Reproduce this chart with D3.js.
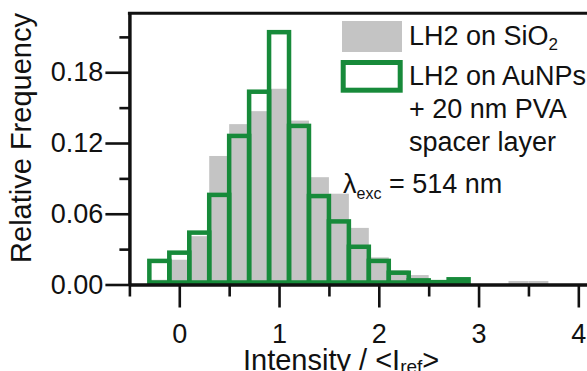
<!DOCTYPE html>
<html>
<head>
<meta charset="utf-8">
<script src="https://cdn.jsdelivr.net/npm/d3@7"></script>
<style>
body { margin: 0; background: #fff; }
svg text { font-family: "Liberation Sans", Arial, sans-serif; fill: #111; }
</style>
</head>
<body>
<script>
// histogram bins (centres), bin width 0.2
var binCenters = [-0.4, -0.2, 0, 0.2, 0.4, 0.6, 0.8, 1.0, 1.2, 1.4, 1.6, 1.8, 2.0, 2.2, 2.4, 2.6, 2.8, 3.0, 3.2, 3.4, 3.6];
// LH2 on SiO2 (grey)
var sio2Freq = [0, 0.004, 0.021, 0.041, 0.109, 0.136, 0.147, 0.166, 0.139, 0.091, 0.077, 0.048, 0.023, 0.012, 0.008, 0.003, 0, 0, 0, 0.003, 0.003];
// LH2 on AuNPs + 20 nm PVA (green outline)
var aunpFreq = [0, 0.020, 0.027, 0.044, 0.076, 0.126, 0.1635, 0.214, 0.1345, 0.075, 0.0535, 0.032, 0.020, 0.010, 0.0035, 0.002, 0.0044];

var xMajorTicks = [0, 1, 2, 3, 4];
var xMinorTicks = [-0.5, 0.5, 1.5, 2.5, 3.5];
var yMajorTicks = [0, 0.06, 0.12, 0.18];
var yMinorTicks = [0.03, 0.09, 0.15, 0.21];

var BIN_W = 0.2;
var W = 587, H = 371;
var GREY = "#c4c4c4";
var GREEN = "#178a3a";

var x = d3.scaleLinear().domain([-0.5, 4.1]).range([129.4, 588.3]);
var y = d3.scaleLinear().domain([0, 0.23]).range([284.5, 13.3]);

var svg = d3.select("body").append("svg")
    .attr("width", W)
    .attr("height", H);

// grey filled bars
svg.append("g").selectAll("rect")
    .data(binCenters.map(function(c, i) { return { c: c, v: sio2Freq[i] }; }))
    .enter().append("rect")
    .attr("x", function(d) { return x(d.c - BIN_W / 2); })
    .attr("width", function(d) { return x(d.c + BIN_W / 2) - x(d.c - BIN_W / 2); })
    .attr("y", function(d) { return y(d.v); })
    .attr("height", function(d) { return y(0) - y(d.v); })
    .style("fill", GREY);

// green outlined bars (base sits just on top of the axis line)
svg.append("g").selectAll("rect")
    .data(aunpFreq.map(function(v, i) { return { c: binCenters[i], v: v }; }))
    .enter().append("rect")
    .attr("x", function(d) { return x(d.c - BIN_W / 2); })
    .attr("width", function(d) { return x(d.c + BIN_W / 2) - x(d.c - BIN_W / 2); })
    .attr("y", function(d) { return Math.min(y(d.v), y(0) - 2); })
    .attr("height", function(d) { return Math.max(0, y(0) - 2 - y(d.v)); })
    .style("fill", "none")
    .style("stroke", GREEN)
    .style("stroke-width", 4.5);

function styleAxis(g) {
    g.attr("font-size", 27).attr("font-family", null);
    g.selectAll("path.domain").style("stroke", "#111").style("stroke-width", 3);
    g.selectAll(".tick line").style("stroke", "#111").style("stroke-width", 2.6);
    g.selectAll(".tick text").style("fill", "#111");
}

// y axis
svg.append("g")
    .attr("transform", "translate(" + x(-0.5) + ",0)")
    .call(d3.axisLeft(y).tickValues(yMinorTicks).tickSize(10).tickSizeOuter(0).tickFormat(""))
    .call(styleAxis);
svg.append("g")
    .attr("transform", "translate(" + x(-0.5) + ",0)")
    .call(d3.axisLeft(y).tickValues(yMajorTicks).tickSize(24).tickSizeOuter(0).tickPadding(2).tickFormat(d3.format(".2f")))
    .call(styleAxis);

// x axis
svg.append("g")
    .attr("transform", "translate(0," + y(0) + ")")
    .call(d3.axisBottom(x).tickValues(xMinorTicks).tickSize(12).tickSizeOuter(0).tickFormat(""))
    .call(styleAxis);
svg.append("g")
    .attr("transform", "translate(0," + y(0) + ")")
    .call(d3.axisBottom(x).tickValues(xMajorTicks).tickSize(23).tickSizeOuter(0).tickPadding(16).tickFormat(d3.format("d")))
    .call(styleAxis);

// top frame line
svg.append("line")
    .attr("x1", x(-0.5) - 1.5).attr("x2", W)
    .attr("y1", y(0.23)).attr("y2", y(0.23))
    .style("stroke", "#111").style("stroke-width", 3);

// axis titles
svg.append("text")
    .attr("transform", "translate(31," + 138 + ") rotate(-90)")
    .attr("text-anchor", "middle")
    .attr("font-size", 29)
    .text("Relative Frequency");

var xt = svg.append("text")
    .attr("x", 243).attr("y", 369.5)
    .attr("font-size", 29);
xt.append("tspan").text("Intensity / <I");
xt.append("tspan").attr("font-size", 19).attr("dy", 3).text("ref");
xt.append("tspan").attr("dy", -3).text(">");

// legend
svg.append("rect")
    .attr("x", 342).attr("y", 21).attr("width", 60).attr("height", 31)
    .style("fill", GREY);
svg.append("rect")
    .attr("x", 343.2).attr("y", 62.5).attr("width", 57).attr("height", 27.7)
    .style("fill", "none").style("stroke", GREEN).style("stroke-width", 5);

var l1 = svg.append("text").attr("x", 409).attr("y", 45).attr("font-size", 27);
l1.append("tspan").text("LH2 on SiO");
l1.append("tspan").attr("font-size", 17).attr("dy", 5).text("2");

var legendLines = ["LH2 on AuNPs", "+ 20 nm PVA", "spacer layer"];
svg.append("g").selectAll("text")
    .data(legendLines)
    .enter().append("text")
    .attr("x", 409)
    .attr("y", function(d, i) { return 84.5 + i * 33; })
    .attr("font-size", 27)
    .text(function(d) { return d; });

var lam = svg.append("text").attr("x", 343).attr("y", 193).attr("font-size", 27);
lam.append("tspan").text("\u03bb");
lam.append("tspan").attr("font-size", 16).attr("dy", 6).text("exc");
lam.append("tspan").attr("dy", -6).text(" = 514 nm");
</script>
</body>
</html>
